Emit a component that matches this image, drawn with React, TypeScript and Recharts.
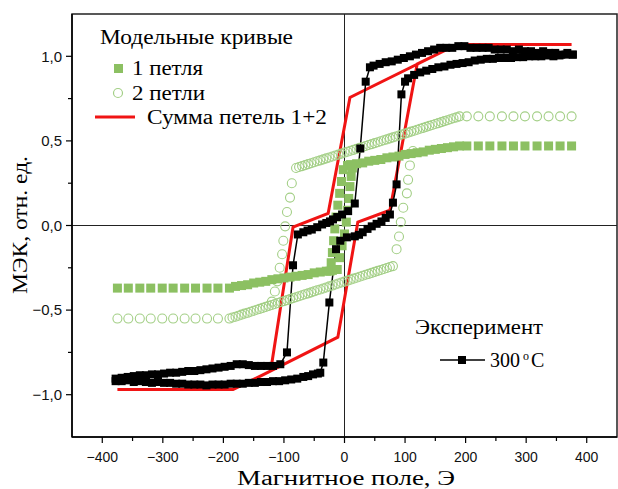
import { ComposedChart, XAxis, YAxis, Scatter, Line, ReferenceLine, ReferenceArea } from "recharts";

// модельная петля 1 (зелёные квадраты)
const loop1X = [
  375, 356, 337, 318, 298, 279, 260, 240, 221, 202,
  190, 180, 170, 160, 150, 140, 130, 120, 110, 100, 90, 80, 70, 60, 50, 40, 30, 20, 10, 5,
  -2, -5, -8, -11, -14, -16, -18, -20, -22, -24,
  -20, -30, -40, -50, -60, -70, -80, -90, -100, -110, -120, -130, -140, -150, -160, -170, -180, -190,
  -209, -227, -246, -264, -283, -301, -320, -338, -357, -375,
  -12, -8, -4, 0, 3, 5, 7, 9, 11, 13,
];
const loop1Y = [
  0.47, 0.47, 0.47, 0.47, 0.47, 0.47, 0.47, 0.47, 0.47, 0.47,
  0.47, 0.465, 0.46, 0.455, 0.45, 0.445, 0.435, 0.43, 0.425, 0.42, 0.41, 0.405, 0.4, 0.39, 0.385, 0.38, 0.37, 0.365, 0.36, 0.355,
  0.33, 0.26, 0.19, 0.12, 0.05, -0.02, -0.09, -0.16, -0.22, -0.27,
  -0.265, -0.27, -0.275, -0.28, -0.29, -0.295, -0.3, -0.305, -0.31, -0.315, -0.32, -0.33, -0.335, -0.34, -0.35, -0.355, -0.36, -0.37,
  -0.37, -0.37, -0.37, -0.37, -0.37, -0.37, -0.37, -0.37, -0.37, -0.37,
  -0.26, -0.19, -0.12, -0.05, 0.02, 0.09, 0.16, 0.23, 0.29, 0.34,
];

// модельная петля 2 (зелёные кружки)
const loop2X = [
  375, 356, 337, 318, 298, 279, 260, 240, 221, 202,
  190, 185, 180, 175, 170, 165, 160, 155, 150, 145, 140, 135, 130, 125, 120, 115, 110, 105, 100, 95,
  90, 85, 80, 75, 70, 65, 60, 55, 50, 45, 40, 35, 30, 25, 20, 15, 10, 5, 0, -5,
  -10, -15, -20, -25, -30, -35, -40, -45, -50, -55, -60, -65, -70, -75, -80,
  -87, -90, -95, -98, -101, -103, -107, -111, -115, -120,
  -190, -185, -180, -175, -170, -165, -160, -155, -150, -145, -140, -135, -130, -125, -120, -115, -110, -105, -100, -95,
  -90, -85, -80, -75, -70, -65, -60, -55, -50, -45, -40, -35, -30, -25, -20, -15, -10, -5, 0, 5,
  10, 15, 20, 25, 30, 35, 40, 45, 50, 55, 60, 65, 70, 75, 80,
  86, 90, 93, 97, 103, 105, 108, 113,
  -209, -227, -246, -264, -283, -301, -320, -338, -357, -375,
];
const loop2Y = [
  0.645, 0.645, 0.645, 0.645, 0.645, 0.645, 0.645, 0.645, 0.645, 0.645,
  0.645, 0.639, 0.634, 0.628, 0.622, 0.617, 0.611, 0.605, 0.6, 0.594, 0.589, 0.583, 0.577, 0.572, 0.566, 0.56, 0.555, 0.549, 0.543, 0.538,
  0.532, 0.526, 0.521, 0.515, 0.509, 0.504, 0.498, 0.492, 0.487, 0.481, 0.476, 0.47, 0.464, 0.459, 0.453, 0.447, 0.442, 0.436, 0.431, 0.425,
  0.419, 0.414, 0.408, 0.402, 0.397, 0.391, 0.385, 0.38, 0.374, 0.368, 0.363, 0.357, 0.351, 0.346, 0.34,
  0.25, 0.165, 0.08, -0.005, -0.09, -0.17, -0.25, -0.33, -0.39, -0.45,
  -0.55, -0.544, -0.539, -0.533, -0.527, -0.521, -0.516, -0.51, -0.504, -0.498, -0.493, -0.487, -0.481, -0.475, -0.47, -0.464, -0.458, -0.452, -0.447, -0.441,
  -0.435, -0.429, -0.424, -0.418, -0.412, -0.406, -0.401, -0.395, -0.389, -0.383, -0.378, -0.372, -0.366, -0.36, -0.355, -0.349, -0.343, -0.337, -0.332, -0.326,
  -0.32, -0.314, -0.309, -0.303, -0.297, -0.291, -0.286, -0.28, -0.274, -0.268, -0.263, -0.257, -0.251, -0.245, -0.24,
  -0.14, -0.065, 0.02, 0.105, 0.19, 0.27, 0.355, 0.44,
  -0.55, -0.55, -0.55, -0.55, -0.55, -0.55, -0.55, -0.55, -0.55, -0.55,
];

// сумма петель 1+2 (красная линия)
const sumX = [375, 186, 9, -27, -85, -122, -184, -375, -184, -139, -11, 22, 75, 120, 186, 375];
const sumY = [1.07, 1.07, 0.757, 0.072, -0.01, -0.86, -0.97, -0.97, -0.97, -0.89, -0.66, 0.02, 0.09, 0.955, 1.07, 1.07];

// эксперимент 300 °C
const expX = [
  377, 368, 358, 348, 338, 328, 318, 308, 298, 288, 278, 268, 258, 248, 238, 228, 218, 208, 198, 188,
  178, 168, 158, 148, 138, 128, 118, 108, 98, 88, 78, 68, 58, 48, 42, 35, 26, 17, 6, -4,
  -12, -19, -24, -30, -37, -45, -54, -61, -68, -77, -85, -95, -106, -118, -128, -138, -148, -158, -168, -178,
  -188, -198, -208, -218, -228, -238, -248, -258, -268, -278, -288, -298, -308, -318, -328, -338, -348, -358, -368, -378,
  -378, -368, -358, -348, -338, -328, -318, -308, -298, -288, -278, -268, -258, -248, -238, -228, -218, -208, -198, -188,
  -178, -168, -158, -148, -138, -128, -118, -108, -98, -88, -78, -68, -60, -52, -44, -40, -35, -25, -14, -7,
  4, 17, 24, 30, 38, 45, 53, 61, 68, 75, 80, 86, 94, 100, 105, 115, 125, 135, 145, 155,
  165, 175, 185, 195, 205, 215, 225, 235, 245, 255, 265, 275, 285, 295, 305, 315, 325, 335, 345, 355, 365, 377,
];
const expY = [
  1.01, 1.02, 1.01, 1.02, 1.02, 1.03, 1.02, 1.03, 1.03, 1.04, 1.03, 1.04, 1.04, 1.04, 1.05, 1.05, 1.05, 1.05, 1.06, 1.06,
  1.05, 1.05, 1.05, 1.04, 1.03, 1.02, 1.01, 1.0, 0.99, 0.98, 0.97, 0.965, 0.955, 0.945, 0.935, 0.85, 0.455, 0.13, 0.085, 0.065,
  0.05, 0.036, 0.024, 0.015, 0.006, -0.01, -0.024, -0.03, -0.04, -0.053, -0.235, -0.75, -0.82, -0.83, -0.83, -0.83, -0.83, -0.825, -0.82, -0.82,
  -0.83, -0.835, -0.84, -0.845, -0.85, -0.855, -0.86, -0.86, -0.865, -0.87, -0.87, -0.875, -0.88, -0.88, -0.885, -0.885, -0.89, -0.895, -0.9, -0.905,
  -0.92, -0.92, -0.915, -0.925, -0.92, -0.925, -0.93, -0.925, -0.93, -0.93, -0.935, -0.935, -0.94, -0.94, -0.94, -0.945, -0.94, -0.94, -0.94, -0.935,
  -0.935, -0.935, -0.93, -0.93, -0.925, -0.925, -0.92, -0.92, -0.915, -0.91, -0.905, -0.895, -0.89, -0.88, -0.875, -0.87, -0.81, -0.455, -0.14, -0.09,
  -0.07, -0.064, -0.055, -0.04, -0.02, -0.005, 0.01, 0.024, 0.045, 0.065, 0.135, 0.243, 0.775, 0.85, 0.87, 0.89, 0.905, 0.915, 0.925, 0.935,
  0.94, 0.95, 0.955, 0.96, 0.965, 0.975, 0.98, 0.985, 0.985, 0.99, 0.99, 0.99, 0.995, 0.995, 1.0, 1.0, 1.0, 1.005, 1.0, 1.005, 1.01, 1.01,
];

const xTicks = [-400, -350, -300, -250, -200, -150, -100, -50, 0, 50, 100, 150, 200, 250, 300, 350, 400];
const yTicks = [-1, -0.75, -0.5, -0.25, 0, 0.25, 0.5, 0.75, 1];

const pts = (xs: number[], ys: number[]) => xs.map((x, i) => ({ x, y: ys[i] }));

const GREEN = "#8cc062";
const GREEN_LIGHT = "#a3cf86";
const RED = "#f01414";
const SANS = "'Liberation Sans', Arial, sans-serif";
const SERIF = "'Liberation Serif', 'Times New Roman', serif";

const minus = (s: string) => s.replace("-", "\u2212");

const XTick = ({ x, y, payload }: any) => {
  const v = payload.value;
  const major = v % 100 === 0;
  return (
    <g>
      <line x1={x} x2={x} y1={y} y2={y + (major ? 6 : 4)} stroke="#000" strokeWidth={1.2} />
      {major && (
        <text x={x} y={y + 25} textAnchor="middle" fontFamily={SANS} fontSize={14} fill="#111">
          {minus(String(v))}
        </text>
      )}
    </g>
  );
};

const YTick = ({ x, y, payload }: any) => {
  const v = payload.value;
  const major = Math.abs(v * 2 - Math.round(v * 2)) < 1e-6;
  return (
    <g>
      <line x1={x} x2={x - (major ? 6 : 4)} y1={y} y2={y} stroke="#000" strokeWidth={1.2} />
      {major && (
        <text x={x - 10} y={y} dy="0.35em" textAnchor="end" fontFamily={SANS} fontSize={15} fill="#111">
          {minus(v.toFixed(1).replace(".", ","))}
        </text>
      )}
    </g>
  );
};

const Square = ({ cx, cy }: any) =>
  cx == null ? null : <rect x={cx - 4.5} y={cy - 4.5} width={9} height={9} fill={GREEN} />;
const Ring = ({ cx, cy }: any) =>
  cx == null ? null : <circle cx={cx} cy={cy} r={4.5} fill="none" stroke={GREEN_LIGHT} strokeWidth={1.1} />;
const BlackDot = (p: any) =>
  p.cx == null ? null : (
    <rect key={p.index} x={p.cx - 4} y={p.cy - 4} width={8} height={8} fill="#000" />
  );

export default function App() {
  return (
    <div style={{ position: "absolute", left: 0, top: 0, width: 618, height: 489, background: "#fff" }}>
      <ComposedChart width={618} height={489} margin={{ top: 14, right: 1, bottom: 0, left: 0 }}>
        <XAxis
          type="number"
          dataKey="x"
          domain={[-450, 450]}
          ticks={xTicks}
          interval={0}
          height={52}
          tickSize={0}
          tickMargin={0}
          tickLine={false}
          tick={<XTick />}
          axisLine={{ stroke: "#000", strokeWidth: 1.5 }}
          allowDataOverflow
        />
        <YAxis
          type="number"
          dataKey="y"
          domain={[-1.25, 1.25]}
          ticks={yTicks}
          interval={0}
          width={72}
          tickSize={0}
          tickMargin={0}
          tickLine={false}
          tick={<YTick />}
          axisLine={{ stroke: "#000", strokeWidth: 1.5 }}
          allowDataOverflow
        />
        <ReferenceArea x1={-450} x2={450} y1={-1.25} y2={1.25} fill="none" stroke="#222" strokeWidth={1.5} fillOpacity={0} />
        <ReferenceLine x={0} stroke="#222" strokeWidth={1} />
        <ReferenceLine y={0} stroke="#222" strokeWidth={1} />
        <Scatter data={pts(loop2X, loop2Y)} shape={<Ring />} isAnimationActive={false} />
        <Scatter data={pts(loop1X, loop1Y)} shape={<Square />} isAnimationActive={false} />
        <Line
          data={pts(sumX, sumY)}
          dataKey="y"
          type="linear"
          stroke={RED}
          strokeWidth={3}
          dot={false}
          activeDot={false}
          isAnimationActive={false}
        />
        <Line
          data={pts(expX, expY)}
          dataKey="y"
          type="linear"
          stroke="#000"
          strokeWidth={1.5}
          dot={BlackDot}
          activeDot={false}
          isAnimationActive={false}
        />
      </ComposedChart>
      <svg width={618} height={489} style={{ position: "absolute", left: 0, top: 0, pointerEvents: "none" }}>
        <text x={346} y={485} textAnchor="middle" fontFamily={SERIF} fontSize={20} textLength={218} lengthAdjust="spacingAndGlyphs">
          Магнитное поле, Э
        </text>
        <text
          transform="translate(27,225) rotate(-90)"
          textAnchor="middle"
          fontFamily={SERIF}
          fontSize={22}
          textLength={138}
          lengthAdjust="spacingAndGlyphs"
        >
          МЭК, отн. ед.
        </text>
        <g fontFamily={SERIF}>
          <text x={100} y={44} fontSize={20} textLength={193} lengthAdjust="spacingAndGlyphs">Модельные кривые</text>
          <rect x={114} y={64} width={9} height={9} fill={GREEN} />
          <text x={132} y={75} fontSize={20} textLength={71} lengthAdjust="spacingAndGlyphs">1 петля</text>
          <circle cx={118} cy={93} r={4.5} fill="none" stroke={GREEN_LIGHT} strokeWidth={1.2} />
          <text x={132} y={100} fontSize={20} textLength={73} lengthAdjust="spacingAndGlyphs">2 петли</text>
          <line x1={95} x2={135} y1={117} y2={117} stroke={RED} strokeWidth={3} />
          <text x={147} y={124} fontSize={20} textLength={180} lengthAdjust="spacingAndGlyphs">Сумма петель 1+2</text>
          <text x={415} y={334} fontSize={20} textLength={128} lengthAdjust="spacingAndGlyphs">Эксперимент</text>
          <line x1={440} x2={485} y1={360} y2={360} stroke="#000" strokeWidth={1.5} />
          <rect x={458} y={356} width={8} height={8} fill="#000" />
          <text x={490} y={367} fontSize={20}>
            300<tspan dx={3} dy={-7} fontSize={12}>o</tspan><tspan dx={2} dy={7}>C</tspan>
          </text>
        </g>
      </svg>
    </div>
  );
}
